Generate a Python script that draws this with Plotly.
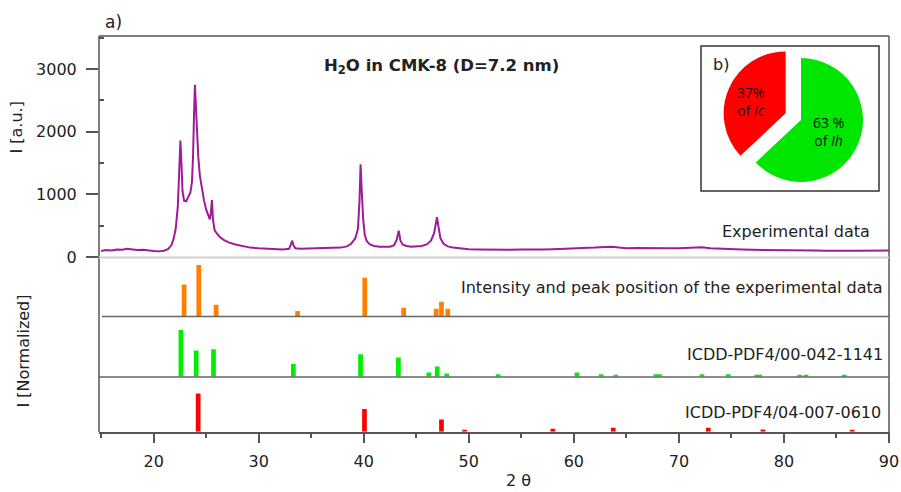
import plotly.graph_objects as go

# ---------------- data ----------------
# experimental XRD pattern (2-theta, intensity in a.u.)
two_theta = [15.0, 15.5, 16.0, 16.5, 17.0, 17.5, 18.0, 18.5, 19.0, 19.5, 20.0, 20.5, 21.0,
             21.4, 21.7, 21.9, 22.1, 22.3, 22.45, 22.55, 22.65, 22.75, 22.9, 23.1, 23.3,
             23.5, 23.65, 23.75, 23.85, 23.93, 24.0, 24.1, 24.25, 24.4, 24.6, 24.8, 25.0,
             25.2, 25.35, 25.45, 25.55, 25.65, 25.8, 26.0, 26.3, 26.7, 27.2, 27.8, 28.5,
             29.2, 30.0, 30.8, 31.5, 32.3, 32.9, 33.1, 33.2, 33.3, 33.5, 34.0, 35.0, 36.0,
             37.0, 37.8, 38.4, 38.8, 39.2, 39.45, 39.6, 39.7, 39.8, 39.95, 40.1, 40.3,
             40.6, 41.0, 41.5, 42.0, 42.5, 42.9, 43.15, 43.33, 43.5, 43.7, 44.0, 44.5,
             45.0, 45.5, 46.0, 46.4, 46.7, 46.9, 46.97, 47.1, 47.3, 47.6, 48.0, 48.5,
             49.0, 50.0, 51.0, 52.0, 53.0, 54.0, 55.0, 56.0, 57.0, 58.0, 59.0, 60.0,
             61.0, 62.0, 63.0, 63.6, 64.3, 65.0, 66.0, 67.0, 68.0, 69.0, 70.0, 71.0,
             72.2, 73.0, 74.0, 75.0, 76.0, 77.0, 78.0, 79.0, 80.0, 81.0, 82.0, 83.0,
             84.0, 85.0, 86.0, 87.0, 88.0, 89.0, 90.0]
intensity = [95, 110, 105, 120, 115, 130, 120, 110, 115, 100, 95, 90, 100,
             130, 190, 290, 450, 800, 1400, 1860, 1500, 1050, 900, 890, 960,
             1030, 1200, 1600, 2300, 2750, 2500, 2000, 1600, 1300, 1080, 900, 760,
             670, 600, 700, 910, 600, 430, 380, 320, 270, 230, 200, 170,
             150, 140, 130, 125, 120, 130, 200, 260, 190, 140, 130, 135, 140,
             140, 150, 170, 210, 300, 450, 900, 1480, 1100, 600, 350, 250,
             200, 175, 165, 160, 165, 190, 280, 420, 260, 200, 180, 165,
             165, 175, 200, 260, 380, 580, 635, 500, 300, 210, 170, 150,
             140, 125, 120, 115, 110, 115, 120, 115, 120, 125, 130, 140,
             135, 150, 160, 165, 150, 140, 145, 140, 135, 140, 140, 145,
             155, 140, 130, 125, 120, 115, 115, 110, 110, 105, 110, 105,
             100, 105, 100, 100, 105, 100, 105]

# peak positions / normalized intensities of the experimental data
exp_pos = [22.9, 24.3, 25.95, 33.7, 40.1, 43.8, 46.9, 47.4, 48.0]
exp_int = [62, 100, 22, 10, 75, 16, 14, 28, 14]

# ICDD-PDF4/00-042-1141 (hexagonal ice Ih)
ih_pos = [22.6, 24.05, 25.7, 33.3, 39.7, 43.3, 46.2, 47.0, 47.9, 52.8, 60.3, 62.6,
          64.0, 67.8, 68.15, 72.2, 74.7, 77.4, 77.7, 81.5, 82.1, 85.75]
ih_int = [100, 56, 59, 27, 48, 41, 9, 22, 7, 5, 9, 5, 4, 5, 5, 5, 5, 4, 4, 4, 4, 4]

# ICDD-PDF4/04-007-0610 (cubic ice Ic)
ic_pos = [24.24, 40.07, 47.4, 49.6, 58.0, 63.75, 72.8, 78.0, 86.5]
ic_int = [100, 59, 32, 5, 8, 10, 10, 6, 5]

# phase fractions for the inset
phase_labels = ["Ic", "Ih"]
phase_share = [37, 63]

x_ticks = [20, 30, 40, 50, 60, 70, 80, 90]
y_ticks = [0, 1000, 2000, 3000]

# ---------------- layout helpers ----------------
W, H = 901, 492
def px(x):
    return x / W
def py(y):
    return 1 - y / H

FONT = "DejaVu Sans"
AXIS_COL = "#555555"

fig = go.Figure()

fig.add_trace(go.Scatter(x=two_theta, y=intensity, mode="lines",
                         line=dict(color="#a01a9a", width=2),
                         xaxis="x", yaxis="y", showlegend=False, hoverinfo="skip"))

stick_w = 0.45
fig.add_trace(go.Bar(x=exp_pos, y=exp_int, width=stick_w, marker=dict(color="#ff8000", line=dict(width=0)),
                     xaxis="x", yaxis="y2", showlegend=False))
fig.add_trace(go.Bar(x=ih_pos, y=ih_int, width=stick_w, marker=dict(color="#00ee00", line=dict(width=0)),
                     xaxis="x", yaxis="y3", showlegend=False))
fig.add_trace(go.Bar(x=ic_pos, y=ic_int, width=stick_w, marker=dict(color="#ff0000", line=dict(width=0)),
                     xaxis="x", yaxis="y4", showlegend=False))

# inset pie: Ic slice ends at 12 o'clock on the left and is pulled out
ic_angle = -360 * phase_share[0] / sum(phase_share)
fig.add_trace(go.Pie(labels=phase_labels, values=phase_share, sort=False,
                     direction="clockwise", rotation=ic_angle,
                     pull=[0.27, 0.0],
                     marker=dict(colors=["#ff0000", "#00e600"], line=dict(width=0)),
                     textinfo="none", hoverinfo="skip", showlegend=False,
                     domain=dict(x=[px(722.3), px(879.7)], y=[py(198.7), py(41.3)])))

tickfont = dict(family=FONT, size=16, color="#222222")
hidden = dict(visible=False, fixedrange=True)

fig.update_layout(
    width=W, height=H, margin=dict(l=0, r=0, t=0, b=0, autoexpand=False),
    paper_bgcolor="white", plot_bgcolor="rgba(0,0,0,0)",
    barmode="overlay",
    xaxis=dict(domain=[px(99), px(889.5)], range=[14.8, 90.05], anchor="y4", automargin=False,
               tickvals=x_ticks, ticks="outside", ticklen=10, tickwidth=1.5, tickcolor=AXIS_COL,
               showline=True, linecolor=AXIS_COL, linewidth=1.5, showgrid=False, zeroline=False,
               tickfont=tickfont, ticklabelstandoff=4, ticklabeloverflow="allow",
               minor=dict(ticks="outside", ticklen=5, tickwidth=1.5, tickcolor=AXIS_COL,
                          tick0=5, dtick=10, showgrid=False)),
    yaxis=dict(domain=[py(257), py(36)], range=[0, 3530], anchor="x", automargin=False,
               tickvals=y_ticks, ticks="outside", ticklen=12, tickwidth=1.5, tickcolor=AXIS_COL,
               showline=False, showgrid=False, zeroline=False, tickfont=tickfont,
               ticklabelstandoff=6,
               minor=dict(ticks="inside", ticklen=5, tickwidth=1.5, tickcolor=AXIS_COL,
                          tick0=500, dtick=1000, showgrid=False)),
    yaxis2=dict(domain=[py(316), py(257)], range=[0, 115.7], anchor="x", **hidden),
    yaxis3=dict(domain=[py(376.7), py(316)], range=[0, 130], anchor="x", **hidden),
    yaxis4=dict(domain=[py(431.7), py(376.7)], range=[0, 143.6], anchor="x", **hidden),
)

def hline(y, x0, x1, color, width):
    fig.add_shape(type="line", xref="paper", yref="paper", x0=px(x0), x1=px(x1), y0=py(y), y1=py(y),
                  line=dict(color=color, width=width))

def vline(x, y0, y1, color, width):
    fig.add_shape(type="line", xref="paper", yref="paper", x0=px(x), x1=px(x), y0=py(y0), y1=py(y1),
                  line=dict(color=color, width=width))

# frame and panel separators
hline(36, 99, 889, AXIS_COL, 1.5)
vline(99, 36, 432, AXIS_COL, 1.5)
vline(889, 36, 432, AXIS_COL, 1.5)
hline(257.5, 99, 889, "#cfcfcf", 2)
hline(316.5, 102, 889, "#666666", 1.5)
hline(377, 99, 889, "#666666", 1.5)

# inset frame
fig.add_shape(type="rect", xref="paper", yref="paper", x0=px(701), x1=px(879), y0=py(191), y1=py(46),
              line=dict(color="#333333", width=1.5), fillcolor="rgba(0,0,0,0)")

def note(text, x, y, size=16, xanchor="center", yanchor="middle", angle=0, family=FONT, color="#222222"):
    fig.add_annotation(text=text, x=px(x), y=py(y), xref="paper", yref="paper", showarrow=False,
                       xanchor=xanchor, yanchor=yanchor, textangle=angle,
                       font=dict(family=family, size=size, color=color))

note("a)", 103, 22, size=17, xanchor="left")
note("<b>H<sub>2</sub>O in CMK-8 (D=7.2 nm)</b>", 441, 66, size=16.5)
note("I [a.u.]", 15.5, 128, size=16, angle=-90)
note("I [Normalized]", 22.5, 351, size=16, angle=-90)
note("2 θ", 518, 480, size=16)
note("Experimental data", 872, 231, size=16, xanchor="right")
note("Intensity and peak position of the experimental data", 885, 287, size=16, xanchor="right")
note("ICDD-PDF4/00-042-1141", 885, 354, size=16, xanchor="right")
note("ICDD-PDF4/04-007-0610", 883, 412, size=16, xanchor="right")

note("b)", 711, 64, size=16, xanchor="left")
note("37%<br>of <i>Ic</i>", 751, 102, size=14, family="Open Sans", color="#1a0000")
note("63 %<br>of <i>Ih</i>", 828, 131, size=14, family="Open Sans", color="#001a00")

fig.write_html("out.html")
